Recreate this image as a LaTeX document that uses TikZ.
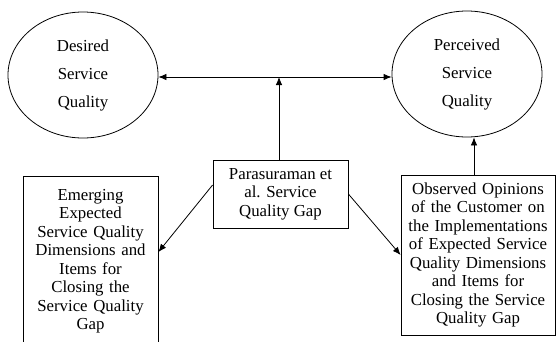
\documentclass[tikz,border=0pt]{standalone}
\usepackage{fontspec}
\setmainfont{Liberation Serif}
\usetikzlibrary{arrows.meta,shapes.geometric}
\begin{document}
\begin{tikzpicture}[x=1pt,y=-1pt,
  every node/.style={font=\fontsize{16.8}{18.5}\selectfont},
  oval/.style={draw,ellipse,line width=0.8pt,minimum width=150pt,minimum height=126pt,
    inner sep=0pt,align=center,font=\fontsize{16.8}{28}\selectfont},
  boxnode/.style={draw,rectangle,line width=0.8pt,align=center,inner sep=0pt},
  link/.style={line width=0.8pt,-{Latex[length=8pt,width=6.5pt]}}]
\useasboundingbox (0,0) rectangle (558,341);
\node[oval] (desired) at (83,75) {Desired\\Service\\Quality};
\node[oval] (perceived) at (467,74) {Perceived\\Service\\Quality};
\node[boxnode,minimum width=135pt,minimum height=68pt] (para) at (280.5,194)
  {Parasuraman et\\al. Service\\Quality Gap};
\node[boxnode,minimum width=135pt,minimum height=170pt,text width=130pt] (emerge) at (90.5,261)
  {Emerging\\Expected\\Service Quality\\Dimensions and\\Items for\\Closing the\\Service Quality\\Gap};
\node[boxnode,minimum width=154pt,minimum height=160pt,text width=150pt] (observed) at (478,255)
  {Observed Opinions\\of the Customer on\\the Implementations\\of Expected Service\\Quality Dimensions\\and Items for\\Closing the Service\\Quality Gap};
% gap links the desired and perceived levels of service quality
\coordinate (dl) at ([yshift=-2pt]desired.east);
\coordinate (pn) at ([xshift=-1.5pt]para.north);
\draw[line width=0.8pt,{Latex[length=8pt,width=6.5pt]}-{Latex[length=8pt,width=6.5pt]}]
  (dl) -- (dl -| perceived.west);
\coordinate (junction) at (dl -| pn);
\draw[link] (pn) -- (junction);
\draw[link] ([yshift=9pt]para.west) -- ([yshift=9pt]emerge.east);
\draw[link] (para.east) -- (observed.west);
\coordinate (on) at ([xshift=-4pt]observed.north);
\draw[link] (on) -- (on |- perceived.south);
\end{tikzpicture}
\end{document}
